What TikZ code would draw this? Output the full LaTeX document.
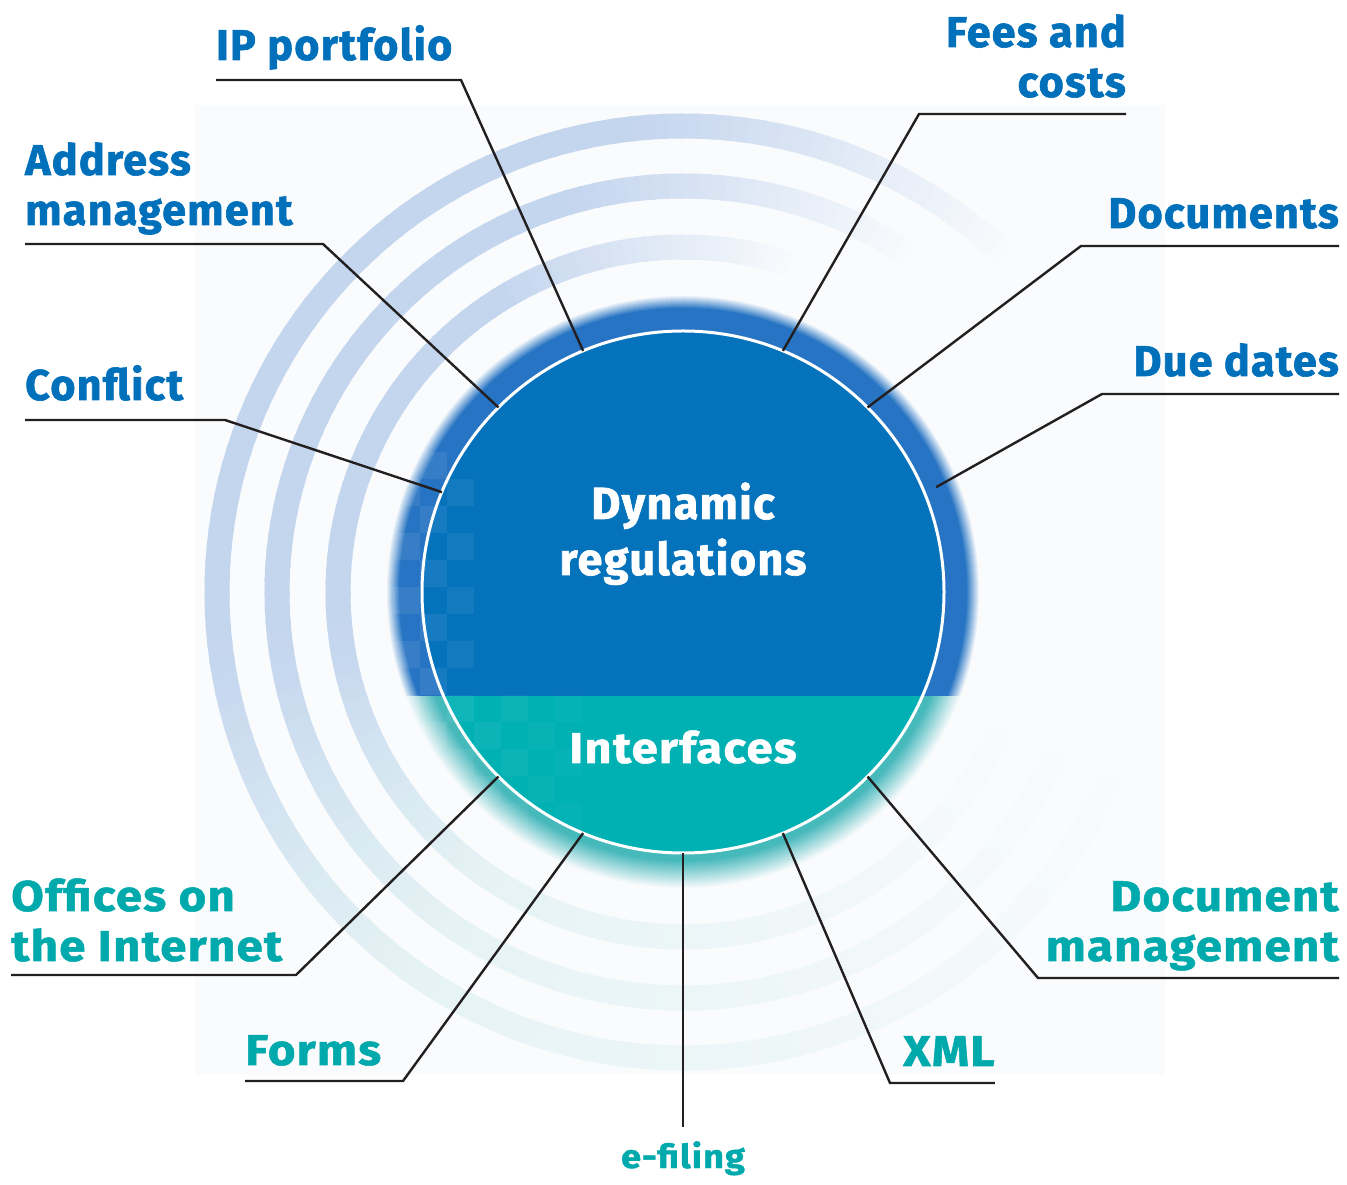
\documentclass[tikz,border=0pt]{standalone}
\usepackage{fontspec}
\setmainfont{Fira Sans}
\newfontfamily\blueface{Fira Sans}[LetterSpace=3,BoldFeatures={FakeBold=1.5}]
\newfontfamily\tealface{Fira Sans}[LetterSpace=3,FakeStretch=1.1,BoldFeatures={FakeBold=1.2}]
\usepackage{tikz}
\usetikzlibrary{calc}
\definecolor{dpblue}{HTML}{0070BB}
\definecolor{dpteal}{HTML}{00A9AB}
\definecolor{disctop}{HTML}{0572BC}
\definecolor{discbot}{HTML}{00B1B4}
\definecolor{ringtop}{HTML}{2674C3}
\definecolor{ringbot}{HTML}{3DB5B8}
\definecolor{waveblue}{HTML}{C4D5EE}
\definecolor{waveteal}{HTML}{DDF0F1}
\definecolor{bgpale}{HTML}{F9FBFD}
\definecolor{leadgray}{HTML}{231F20}
\newcommand\bluefont{\blueface\bfseries\fontsize{43}{50}\selectfont}
\newcommand\tealfont{\tealface\bfseries\fontsize{43}{50}\selectfont}

\begin{document}
\begin{tikzpicture}[x=1pt,y=1pt,
    toplbl/.style={text=dpblue,font=\bluefont,inner sep=0pt},
    botlbl/.style={text=dpteal,font=\tealfont,inner sep=0pt},
    leader/.style={draw=leadgray,line width=2.4pt}]
	\useasboundingbox (0,0) rectangle (1347,1184);
	\fill[white] (0,0) rectangle (1347,1184);
	\fill[bgpale] (195,109) rectangle (1165,1079);
	\coordinate (c) at (683,592);

	% waves behind the disc
	\foreach \r/\s in {466/45,406/55,345/70}{
		\foreach \a in {44,46,...,334}{
			\pgfmathtruncatemacro\op{max(0,min(100,(\a-\s)/0.5,(340-\a)/1.5))}
			\pgfmathtruncatemacro\mx{max(0,min(100,(235-\a)/0.5))}
			\draw[line width=25pt,color=waveblue!\mx!waveteal!\op!bgpale]
				($(c)+(\a:\r)$) arc[start angle=\a,end angle=\a+2.6,radius=\r];
		}
	}

	% upper half: blue
	\begin{scope}
		\clip (0,487) rectangle (1347,1184);
		\foreach \r in {296,295,...,262}{
			\pgfmathtruncatemacro\k{min(100,(297-\r)*100/13)}
			\fill[ringtop!\k!bgpale] (c) circle[radius=\r];
		}
		\fill[disctop] (c) circle[radius=261];
	\end{scope}
	% lower half: teal
	\begin{scope}
		\clip (0,0) rectangle (1347,487);
		\foreach \r in {296,295,...,262}{
			\pgfmathtruncatemacro\k{min(95,(297-\r)*95/28)}
			\fill[ringbot!\k!bgpale] (c) circle[radius=\r];
		}
		\fill[discbot] (c) circle[radius=261];
	\end{scope}
	% checker
	\begin{scope}
		\clip (c) circle[radius=292];
		\foreach \i in {0,...,6}
			\foreach \j in {0,...,13}{
				\pgfmathtruncatemacro\p{mod(\i+\j,2)+(\j>4 && \i>2 ? 1 : 0)}
				\pgfmathsetmacro\ck{0.08-0.01*\i}
				\ifnum\p=0
					\fill[white,opacity=\ck] (393+27*\i,354+27*\j) rectangle ++(27,27);
				\fi
			}
	\end{scope}
	\draw[white,line width=3pt] (c) circle[radius=261];

	\node[font=\blueface\bfseries\fontsize{45}{56}\selectfont,text=white,align=center,anchor=base,inner sep=0pt] (dyn) at (683,609) {Dynamic\\regulations};
	\node[font=\tealface\fontsize{43}{50}\selectfont\bfseries,text=white,anchor=base,inner sep=0pt] (intf) at (683,421) {Interfaces};

	% labels
	\node[toplbl,anchor=base west] (ipp) at (216,1124) {IP portfolio};
	\node[toplbl,anchor=base west,align=left] (adr) at (25,959) {Address\\management};
	\node[toplbl,anchor=base west] (cnf) at (25,784) {Conflict};
	\node[toplbl,anchor=base east,align=right] (fee) at (1126,1087) {Fees and\\costs};
	\node[toplbl,anchor=base east] (doc) at (1339,956) {Documents};
	\node[toplbl,anchor=base east] (due) at (1339,808) {Due dates};
	\node[botlbl,anchor=base west,align=left] (off) at (11,223) {Offices on\\the Internet};
	\node[botlbl,anchor=base west] (frm) at (245,119) {Forms};
	\node[botlbl,anchor=base,font=\tealface\bfseries\fontsize{33}{40}\selectfont] (efl) at (683,16) {e-filing};
	\node[botlbl,anchor=base west] (xml) at (903,118) {XML};
	\node[botlbl,anchor=base east,align=right] (dmg) at (1339,223) {Document\\management};

	% knees and ends
	\coordinate (ipp-k) at (461,1104);
	\coordinate (adr-k) at (323,940);
	\coordinate (cnf-k) at (225,764);
	\coordinate (fee-k) at (919,1070);
	\coordinate (doc-k) at (1081,938);
	\coordinate (due-k) at (1102,790);
	\coordinate (off-k) at (296,209);
	\coordinate (frm-k) at (403,103);
	\coordinate (efl-k) at (683,57);
	\coordinate (xml-k) at (890,101);
	\coordinate (dmg-k) at (1038,206);
	\coordinate (p112) at ($(c)+(112.5:261)$);
	\coordinate (p135) at ($(c)+(135:261)$);
	\coordinate (p157) at ($(c)+(157.5:261)$);
	\coordinate (p67) at ($(c)+(67.5:261)$);
	\coordinate (p45) at ($(c)+(45:261)$);
	\coordinate (p22) at ($(c)+(22.5:274)$);
	\coordinate (p225) at ($(c)+(225:261)$);
	\coordinate (p247) at ($(c)+(247.5:261)$);
	\coordinate (p270) at ($(c)+(270:261)$);
	\coordinate (p292) at ($(c)+(292.5:261)$);
	\coordinate (p315) at ($(c)+(315:261)$);

	\draw[leader] (ipp.west |- ipp-k) -- (ipp-k) -- (p112);
	\draw[leader] (adr.west |- adr-k) -- (adr-k) -- (p135);
	\draw[leader] (cnf.west |- cnf-k) -- (cnf-k) -- (p157);
	\draw[leader] (fee.east |- fee-k) -- (fee-k) -- (p67);
	\draw[leader] (doc.east |- doc-k) -- (doc-k) -- (p45);
	\draw[leader] (due.east |- due-k) -- (due-k) -- (p22);
	\draw[leader] (off.west |- off-k) -- (off-k) -- (p225);
	\draw[leader] (frm.west |- frm-k) -- (frm-k) -- (p247);
	\draw[leader] (efl-k) -- (p270);
	\draw[leader] (xml.east |- xml-k) -- (xml-k) -- (p292);
	\draw[leader] (dmg.east |- dmg-k) -- (dmg-k) -- (p315);
\end{tikzpicture}
\end{document}
